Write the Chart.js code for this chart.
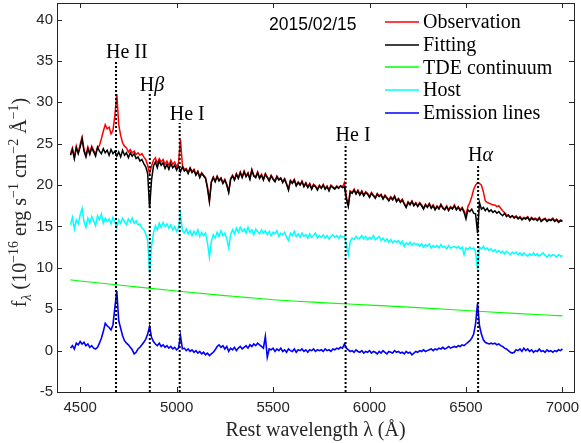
<!DOCTYPE html>
<html><head><meta charset="utf-8">
<script src="https://cdn.jsdelivr.net/npm/chart.js@4.4.1/dist/chart.umd.min.js"></script>
<style>html,body{margin:0;padding:0;background:#fff;}#wrap{width:581px;height:443px;}</style>
</head><body><div id="wrap"><canvas id="c" width="581" height="443"></canvas></div>
<script>
// ---- data (flux in 1e-16 erg/s/cm2/A), sampled every 10 A from 4450 A ----
const waveStart = 4450, waveStep = 10;
const observation = [
23.8,24.5,23.3,24.7,23.9,24.9,25.8,24.3,23.6,24.6,
23.9,24.7,24.2,23.8,24.5,24.8,25.6,26.5,27.3,26.8,
27.0,26.2,26.6,28.4,31.0,27.3,26.0,25.1,24.7,24.5,
24.0,24.3,23.9,24.1,23.7,23.9,23.6,23.8,23.4,23.1,
22.4,21.4,22.3,23.0,23.3,22.6,23.2,22.8,23.1,22.5,
22.9,22.4,23.0,22.5,22.8,22.2,22.7,25.5,22.4,21.9,
22.0,21.5,22.1,21.6,21.9,21.3,21.7,21.0,21.5,21.2,
20.9,19.8,18.1,20.4,21.0,20.5,21.1,20.6,20.9,20.3,
20.7,20.1,19.2,20.8,21.2,20.7,21.4,20.9,21.6,21.0,
21.7,21.1,21.5,20.8,21.9,21.2,21.0,21.6,20.9,21.3,
20.7,21.4,21.0,20.6,21.2,20.8,20.5,21.1,20.7,20.9,
20.4,20.8,20.2,19.5,20.6,20.3,20.7,20.0,20.4,20.1,
20.5,19.9,20.3,19.8,20.2,19.6,20.1,19.9,19.5,20.0,
19.7,20.1,19.6,19.9,19.4,20.0,19.8,19.6,19.9,19.7,
19.9,19.8,20.3,18.6,17.6,19.3,19.1,19.5,19.0,19.4,
18.9,19.3,18.8,19.2,19.0,18.6,19.1,18.8,18.5,19.0,
18.7,18.9,18.4,18.8,18.5,18.2,18.6,18.3,18.7,18.1,
18.4,18.0,18.3,17.8,17.4,18.0,17.7,18.1,17.6,17.9,
17.5,17.9,17.6,17.2,17.7,17.4,17.8,17.3,17.6,17.1,
17.5,17.2,17.7,17.3,17.1,17.5,17.0,17.4,17.2,17.6,
17.1,17.4,17.0,17.3,16.9,16.3,17.4,17.9,18.6,19.5,
20.0,20.3,20.2,20.0,19.2,18.1,17.9,17.8,17.7,17.6,
17.6,17.4,17.5,17.2,16.9,16.7,16.4,16.3,16.1,16.3,
16.1,16.3,16.0,16.2,15.9,16.1,16.0,16.2,15.8,16.1,
15.9,16.0,15.8,16.1,15.7,15.9,16.0,15.7,15.9,15.8,
16.0,15.7,15.9,15.6,15.8,15.7];
const fitting = [
23.6,24.3,23.2,24.5,23.8,24.6,25.6,24.1,23.4,24.4,
23.7,24.5,24.0,23.5,24.6,24.1,23.8,24.4,23.9,24.2,
23.6,24.3,23.8,24.1,23.5,24.0,23.4,24.2,23.6,23.9,
23.3,23.9,23.5,23.8,23.2,23.4,22.9,23.1,22.6,22.2,
21.4,17.2,20.6,22.3,22.8,22.1,22.9,22.4,22.7,22.0,
22.5,21.9,22.6,22.1,22.4,21.8,22.3,21.6,22.2,21.7,
21.9,21.4,22.0,21.5,21.8,21.2,21.6,20.9,21.4,21.1,
20.8,19.6,18.0,20.3,20.9,20.4,21.0,20.5,20.8,20.2,
20.6,20.0,19.1,20.7,21.1,20.6,21.3,20.8,21.5,20.9,
21.6,21.0,21.4,20.7,21.8,21.1,20.9,21.5,20.8,21.2,
20.6,21.3,20.9,20.5,21.1,20.7,20.4,21.0,20.6,20.8,
20.3,20.7,20.1,19.4,20.5,20.2,20.6,19.9,20.3,20.0,
20.4,19.8,20.2,19.7,20.1,19.5,20.0,19.8,19.4,19.9,
19.6,20.0,19.5,19.8,19.3,19.9,19.7,19.5,19.8,19.6,
19.9,19.7,19.8,18.3,17.4,19.2,19.0,19.4,18.9,19.3,
18.8,19.2,18.7,19.1,18.9,18.5,19.0,18.7,18.4,18.9,
18.6,18.8,18.3,18.7,18.4,18.1,18.5,18.2,18.6,18.0,
18.3,17.9,18.2,17.7,17.3,17.9,17.6,18.0,17.5,17.8,
17.4,17.8,17.5,17.1,17.6,17.3,17.7,17.2,17.5,17.0,
17.4,17.1,17.6,17.2,17.0,17.4,16.9,17.3,17.1,17.5,
17.0,17.3,16.9,17.2,16.7,15.9,17.0,16.8,17.1,16.6,
16.5,14.2,17.9,17.1,17.3,16.9,17.2,16.8,17.0,16.7,
16.9,16.6,16.8,16.5,16.3,16.6,16.2,16.4,16.1,16.3,
16.0,16.2,15.9,16.1,15.8,16.0,15.9,16.1,15.7,16.0,
15.8,15.9,15.7,16.0,15.6,15.8,15.9,15.6,15.8,15.7,
15.9,15.6,15.8,15.5,15.7,15.6];
const host = [
15.2,16.1,14.7,15.8,15.3,16.4,17.2,15.6,14.9,16.0,
15.4,16.2,15.7,15.1,16.3,15.8,16.5,15.4,16.0,15.6,
15.9,15.3,16.1,15.5,14.9,15.8,15.4,16.0,15.6,15.2,
15.9,15.5,16.0,15.4,15.7,15.2,15.3,14.8,14.6,14.1,
13.3,9.4,12.6,14.2,15.1,14.6,15.4,14.9,15.5,15.0,
15.3,14.8,15.2,14.6,15.0,14.4,14.9,16.5,14.5,14.2,
14.7,14.1,14.5,13.9,14.4,14.0,14.6,13.8,14.3,13.9,
14.2,13.0,11.3,13.2,14.0,13.6,14.3,13.8,14.5,13.9,
14.2,13.5,12.4,14.0,14.6,14.1,14.8,14.3,14.9,14.4,
14.7,14.2,14.9,14.3,14.6,14.0,14.7,14.4,14.1,14.6,
14.2,14.5,14.0,14.4,13.9,14.3,14.1,14.5,13.8,14.2,
14.0,14.3,13.7,13.3,14.2,13.9,14.4,13.8,14.1,13.7,
14.2,13.8,14.0,13.6,14.1,13.7,13.9,14.2,13.6,13.9,
13.7,14.0,13.6,13.9,13.5,13.8,14.0,13.7,13.9,13.6,
13.9,13.7,13.8,12.8,11.6,13.2,13.6,13.4,13.8,13.5,
13.6,13.9,13.5,13.8,13.4,13.7,13.5,13.9,13.4,13.6,
13.8,13.3,13.6,13.2,13.5,13.1,13.4,13.0,13.3,13.1,
13.3,12.9,13.2,12.6,13.0,12.8,13.1,12.7,13.0,12.8,
12.9,12.6,12.9,12.5,12.8,12.6,12.9,12.4,12.7,12.5,
12.7,12.4,12.8,12.5,12.6,12.3,12.7,12.4,12.5,12.6,
12.4,12.6,12.3,12.5,11.6,12.4,12.2,12.5,12.3,12.4,
11.9,9.8,12.5,12.3,12.6,12.2,12.4,12.1,12.3,12.0,
12.2,11.9,12.1,11.8,12.0,11.7,12.0,11.8,11.6,11.9,
11.7,11.9,11.6,11.8,11.5,11.8,11.6,11.4,11.7,11.5,
11.8,11.5,11.7,11.4,11.6,11.8,11.5,11.3,11.6,11.4,
11.6,11.5,11.3,11.6,11.4,11.5];
const emissionLines = [
0.3,0.6,0.2,0.9,0.7,1.1,0.8,1.0,0.6,0.8,
0.4,0.6,0.3,0.2,0.4,0.9,1.5,2.3,3.3,3.0,
2.8,2.5,3.1,5.2,7.2,3.6,2.7,1.8,1.2,0.9,
0.7,0.4,0.1,-0.4,-0.2,0.2,0.4,0.7,1.0,1.4,
2.0,2.9,1.6,1.1,0.8,0.6,0.9,0.5,0.7,0.4,
0.6,0.3,0.5,0.2,0.4,0.1,0.3,1.8,0.2,0.3,
0.0,0.2,-0.1,0.1,-0.2,0.0,-0.3,-0.1,-0.4,-0.2,
-0.5,-0.3,-0.6,-0.4,-0.2,0.1,0.5,0.7,0.4,0.6,
0.2,0.5,-0.1,0.3,0.1,0.4,0.0,0.3,0.5,0.2,
0.4,0.6,0.3,0.7,0.5,0.8,0.6,0.9,0.7,0.5,
0.3,1.7,-0.8,0.2,0.1,0.3,-0.1,0.2,0.0,0.3,
-0.1,0.1,-0.2,0.2,0.0,-0.1,0.2,-0.2,0.1,0.0,
0.2,-0.1,0.1,-0.2,0.1,0.0,0.2,-0.1,0.1,0.0,
0.1,-0.1,0.2,0.0,0.1,-0.1,0.2,0.1,0.3,0.2,
0.4,0.3,0.8,0.3,0.1,-0.1,0.0,-0.2,0.1,-0.1,
-0.2,0.0,-0.3,-0.1,-0.2,0.0,-0.3,-0.1,-0.2,-0.4,
-0.1,-0.3,0.0,-0.2,-0.4,-0.1,-0.2,-0.3,0.0,-0.2,
-0.1,-0.3,-0.2,-0.4,-0.1,-0.3,-0.2,-0.5,-0.3,-0.1,
-0.2,0.0,-0.1,0.1,-0.1,0.0,0.1,0.2,0.0,0.2,
0.1,0.3,0.2,0.4,0.2,0.3,0.5,0.3,0.4,0.5,
0.4,0.6,0.5,0.7,0.6,0.8,1.0,1.2,1.5,2.0,
3.3,5.7,3.0,2.0,1.3,1.0,0.9,0.8,0.9,0.8,
0.9,0.7,0.8,0.6,0.5,0.3,0.2,0.0,-0.2,-0.3,
-0.2,0.1,0.0,0.2,-0.1,0.3,0.0,0.2,-0.1,0.1,
-0.2,0.0,-0.1,0.2,-0.1,0.0,-0.2,0.1,-0.1,0.0,
-0.2,0.0,-0.1,0.1,0.0,0.2];
const continuumWave = [4450,4500,4750,5000,5250,5500,5750,6000,6250,6500,6750,7000];
const continuumFlux = [8.55,8.42,7.8,7.2,6.65,6.15,5.8,5.5,5.2,4.85,4.5,4.2];
const lineWavelengths = [4686, 4861, 5016, 5876, 6563];
const lineNames = ['He II', 'Hβ', 'He I', 'He I', 'Hα'];
const lineTops = [35, 31, 27.5, 25, 22.5];
const xTicks = [4500, 5000, 5500, 6000, 6500, 7000];
const yTicks = [-5, 0, 5, 10, 15, 20, 25, 30, 35, 40];
const legendLabels = ['Observation', 'Fitting', 'TDE continuum', 'Host', 'Emission lines'];
const legendColors = ['#ff0000', '#000000', '#00ff00', '#00ffff', '#0000ff'];
const dateLabel = '2015/02/15';

const wavelength = observation.map((_, i) => waveStart + i * waveStep);
const pts = (xs, ys) => xs.map((x, i) => ({x: x, y: ys[i]}));

const AX = '#262626';
const SERIF = '"Liberation Serif", "Times New Roman", serif';
const SANS = '"Liberation Sans", Arial, sans-serif';

const datasets = [
  {label: legendLabels[0], data: pts(wavelength, observation), borderColor: legendColors[0], order: 5},
  {label: legendLabels[1], data: pts(wavelength, fitting), borderColor: legendColors[1], order: 4},
  {label: legendLabels[2], data: pts(continuumWave, continuumFlux), borderColor: legendColors[2], order: 3, borderWidth: 1.1, cubicInterpolationMode: 'monotone'},
  {label: legendLabels[3], data: pts(wavelength, host), borderColor: legendColors[3], order: 2},
  {label: legendLabels[4], data: pts(wavelength, emissionLines), borderColor: legendColors[4], order: 1, borderWidth: 1.6}
];
lineWavelengths.forEach((w, i) => {
  datasets.push({label: lineNames[i], data: [{x: w, y: yTicks[0]}, {x: w, y: lineTops[i]}],
    borderColor: '#000', borderWidth: 2, borderDash: [2, 2], order: 0});
});

function drawMixed(ctx, text, x, y, size) {
  const runs = text.split(/([αβλ])/).filter(s => s.length);
  let cx = x;
  runs.forEach(r => {
    ctx.font = (/[αβλ]/.test(r) ? 'italic ' : '') + size + 'px ' + SERIF;
    ctx.fillText(r, cx, y);
    cx += ctx.measureText(r).width;
  });
}

const decor = {
  id: 'decor',
  beforeDraw(chart) {
    const c = chart.ctx; c.save(); c.fillStyle = '#fff'; c.fillRect(0, 0, chart.width, chart.height); c.restore();
  },
  afterDatasetsDraw(chart) {
    const {ctx, chartArea: a, scales: {x, y}} = chart;
    ctx.save();
    // line identification labels
    ctx.fillStyle = '#000'; ctx.textAlign = 'left'; ctx.textBaseline = 'alphabetic';
    lineWavelengths.forEach((w, i) => {
      drawMixed(ctx, lineNames[i], x.getPixelForValue(w) - 10, y.getPixelForValue(lineTops[i]) - 3, 20);
    });
    // date label
    ctx.font = '17.5px ' + SANS; ctx.textBaseline = 'middle'; ctx.fillStyle = '#000';
    ctx.fillText(dateLabel, a.left + 212, a.top + 22.5);
    // legend
    legendLabels.forEach((lab, i) => {
      const yy = a.top + 18.7 + i * 22.8;
      ctx.strokeStyle = legendColors[i]; ctx.lineWidth = 1.3;
      ctx.beginPath(); ctx.moveTo(a.right - 189, Math.round(yy)); ctx.lineTo(a.right - 155, Math.round(yy)); ctx.stroke();
      ctx.fillStyle = '#000'; ctx.font = '20px ' + SERIF; ctx.textBaseline = 'middle';
      ctx.fillText(lab, a.right - 151, yy + 1);
    });
    // box and inward ticks
    ctx.strokeStyle = AX; ctx.lineWidth = 1;
    ctx.strokeRect(a.left + 0.5, a.top + 0.5, a.right - a.left, a.bottom - a.top);
    ctx.beginPath();
    xTicks.forEach(v => {
      const px = Math.round(x.getPixelForValue(v)) + 0.5;
      ctx.moveTo(px, a.bottom); ctx.lineTo(px, a.bottom - 5);
      ctx.moveTo(px, a.top); ctx.lineTo(px, a.top + 5);
    });
    yTicks.forEach(v => {
      const py = Math.round(y.getPixelForValue(v)) + 0.5;
      ctx.moveTo(a.left, py); ctx.lineTo(a.left + 5, py);
      ctx.moveTo(a.right, py); ctx.lineTo(a.right - 5, py);
    });
    ctx.stroke();
    ctx.restore();
  },
  afterDraw(chart) {
    const ctx = chart.ctx, a = chart.chartArea;
    const parts = [
      {t: 'f', s: 20, d: 0}, {t: 'λ', s: 14, d: 5, it: true}, {t: ' (10', s: 20, d: 0}, {t: '−16', s: 14, d: -8},
      {t: ' erg s', s: 20, d: 0}, {t: '−1', s: 14, d: -8}, {t: ' cm', s: 20, d: 0}, {t: '−2', s: 14, d: -8},
      {t: ' Å', s: 20, d: 0}, {t: '−1', s: 14, d: -8}, {t: ')', s: 20, d: 0}
    ];
    ctx.save();
    ctx.fillStyle = AX; ctx.textBaseline = 'alphabetic'; ctx.textAlign = 'left';
    let total = 0;
    parts.forEach(p => { ctx.font = (p.it ? 'italic ' : '') + p.s + 'px ' + SERIF; p.w = ctx.measureText(p.t).width; total += p.w; });
    ctx.translate(25.5, (a.top + a.bottom) / 2 + 5);
    ctx.rotate(-Math.PI / 2);
    let cx = -total / 2;
    parts.forEach(p => { ctx.font = (p.it ? 'italic ' : '') + p.s + 'px ' + SERIF; ctx.fillText(p.t, cx, p.d); cx += p.w; });
    ctx.restore();
  }
};

const zeroPad = s => { s.paddingTop = 0; s.paddingBottom = 0; s.paddingLeft = 0; s.paddingRight = 0; };

new Chart(document.getElementById('c'), {
  type: 'line',
  data: {datasets},
  options: {
    responsive: false, animation: false,
    layout: {padding: {left: 0, right: 7, top: 3, bottom: 0}},
    plugins: {legend: {display: false}, tooltip: {enabled: false}},
    elements: {point: {radius: 0}, line: {borderWidth: 1.5, tension: 0}},
    scales: {
      x: {
        type: 'linear', min: 4380, max: 7060,
        grid: {display: false, drawTicks: false, tickLength: 0}, border: {display: false},
        afterBuildTicks: s => { s.ticks = xTicks.map(v => ({value: v})); },
        ticks: {autoSkip: false, maxRotation: 0, padding: 7, color: AX, font: {family: SANS, size: 15}, callback: v => String(v)},
        title: {display: true, text: 'Rest wavelength λ (Å)', color: AX, font: {family: SERIF, size: 20}, padding: {top: 0, bottom: 0}},
        afterFit: s => { s.height = 51; zeroPad(s); }
      },
      y: {
        type: 'linear', min: -5, max: 42,
        grid: {display: false, drawTicks: false, tickLength: 0}, border: {display: false},
        afterBuildTicks: s => { s.ticks = yTicks.map(v => ({value: v})); },
        ticks: {autoSkip: false, padding: 4, color: AX, font: {family: SANS, size: 15}, callback: v => String(v)},
        afterFit: s => { s.width = 57; zeroPad(s); }
      }
    }
  },
  plugins: [decor]
});
</script></body></html>
